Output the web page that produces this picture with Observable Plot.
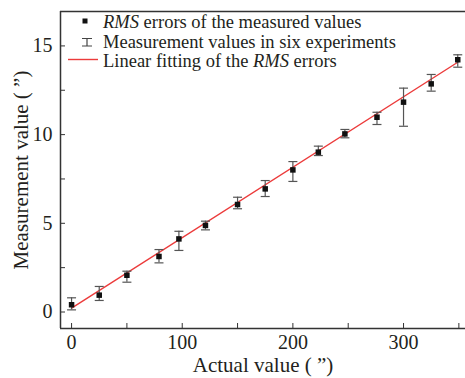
<!DOCTYPE html>
<html><head><meta charset="utf-8">
<script src="https://cdn.jsdelivr.net/npm/d3@7"></script>
<script src="https://cdn.jsdelivr.net/npm/@observablehq/plot@0.6"></script>
<style>
body{margin:0;background:#fff;}
#wrap{position:relative;width:465px;height:378px;overflow:hidden;font-family:"Liberation Serif","Times New Roman",serif;}
#wrap svg, #wrap svg text, #wrap svg tspan{font-family:"Liberation Serif","Times New Roman",serif !important;}
#legend{position:absolute;left:0;top:0;}
</style></head><body><div id="wrap"></div>
<script>
// data
const actual  = [0, 25, 50, 79, 97, 121, 150, 175, 200, 223, 247, 276, 300, 325, 349];
const rms     = [0.41, 0.95, 2.07, 3.13, 4.12, 4.88, 6.06, 6.94, 8.01, 9.01, 10.04, 10.98, 11.83, 12.86, 14.22];
const errLow  = [0.12, 0.65, 1.68, 2.77, 3.47, 4.63, 5.82, 6.51, 7.36, 8.82, 9.82, 10.57, 10.47, 12.45, 13.80];
const errHigh = [0.80, 1.44, 2.30, 3.52, 4.55, 5.12, 6.47, 7.41, 8.48, 9.35, 10.29, 11.26, 12.62, 13.39, 14.50];
const fitX = [0, 349];
const fitY = [0.22, 14.08];
const xTicks = [0, 50, 100, 150, 200, 250, 300, 350];
const xTickLabels = [0, 100, 200, 300];
const yTicks = [0, 2.5, 5, 7.5, 10, 12.5, 15];
const yTickLabels = [0, 5, 10, 15];
const xLabel = "Actual value ( \u201d)";
const yLabel = "Measurement value ( \u201d)";
const xDomain = [-10, 356];
const yDomain = [-0.93, 16.94];

const data = actual.map((x, i) => ({x, y: rms[i], lo: errLow[i], hi: errHigh[i]}));
const fit = fitX.map((x, i) => ({x, y: fitY[i]}));
const cap = {draw(ctx) { ctx.moveTo(-4.5, 0); ctx.lineTo(4.5, 0); }};
const ink = "#231f20";
const font = "Liberation Serif, Times New Roman, serif";

const chart = Plot.plot({
  width: 465, height: 378,
  marginLeft: 60, marginRight: 0, marginTop: 11, marginBottom: 50,
  x: {domain: xDomain},
  y: {domain: yDomain},
  style: {fontFamily: font, fontSize: "20px", color: ink, background: "white"},
  marks: [
    Plot.ruleX([xDomain[0]], {stroke: "#333", strokeWidth: 1.5}),
    Plot.ruleY(yDomain, {stroke: "#333", strokeWidth: 1.5}),
    Plot.axisX({ticks: xTicks, tickSize: -5, tickFormat: () => "", label: null, stroke: "#333"}),
    Plot.axisX({ticks: xTickLabels, tickSize: 0, tickPadding: 6, label: null, fill: ink, fontFamily: font, fontSize: 20}),
    Plot.axisY({ticks: yTicks, tickSize: -5, tickFormat: () => "", label: null, stroke: "#333"}),
    Plot.axisY({ticks: yTickLabels, tickSize: 0, tickPadding: 8, label: null, fill: ink, fontFamily: font, fontSize: 20}),
    Plot.text([xLabel], {text: d => d, frameAnchor: "bottom", textAnchor: "middle", lineAnchor: "middle", dy: 37, fontSize: 21, fill: ink, fontFamily: font}),
    Plot.text([yLabel], {text: d => d, frameAnchor: "left", textAnchor: "middle", lineAnchor: "middle", dx: -39, rotate: -90, fontSize: 21, fill: ink, fontFamily: font}),
    Plot.line(fit, {x: "x", y: "y", stroke: "#ec3b3b", strokeWidth: 1.4}),
    Plot.ruleX(data, {x: "x", y1: "lo", y2: "hi", stroke: "#555", strokeWidth: 1.2}),
    Plot.dot(data, {x: "x", y: "lo", symbol: cap, stroke: "#555", strokeWidth: 1.2}),
    Plot.dot(data, {x: "x", y: "hi", symbol: cap, stroke: "#555", strokeWidth: 1.2}),
    Plot.dot(data, {x: "x", y: "y", symbol: "square", r: 3.1, fill: "#111", stroke: "none"})
  ]
});
const wrap = document.getElementById("wrap");
wrap.appendChild(chart);

// legend
const lg = d3.select(wrap).append("svg").attr("id", "legend").attr("width", 465).attr("height", 80)
  .style("font-size", "18.5px").style("fill", ink);
lg.append("rect").attr("x", 82.5).attr("y", 18.5).attr("width", 5).attr("height", 5).attr("fill", "#111");
lg.append("path").attr("d", "M82,38.5H92M87,38.5V46M82,46H92").attr("stroke", "#444").attr("stroke-width", 1.2).attr("fill", "none");
lg.append("path").attr("d", "M68,59.5H98").attr("stroke", "#ec3b3b").attr("stroke-width", 1.4);
const t1 = lg.append("text").attr("x", 103).attr("y", 28);
t1.append("tspan").style("font-style", "italic").text("RMS");
t1.append("tspan").text(" errors of the measured values");
lg.append("text").attr("x", 103).attr("y", 47.5).text("Measurement values in six experiments");
const t3 = lg.append("text").attr("x", 103).attr("y", 67);
t3.append("tspan").text("Linear fitting of the ");
t3.append("tspan").style("font-style", "italic").text("RMS");
t3.append("tspan").text(" errors");
</script>
</body></html>
